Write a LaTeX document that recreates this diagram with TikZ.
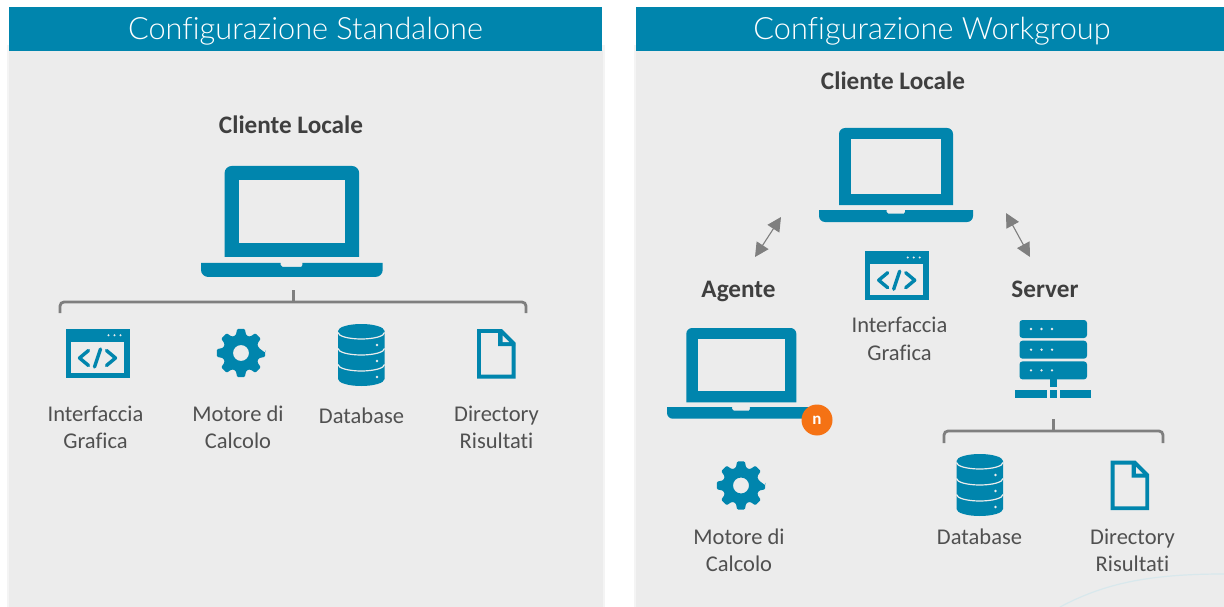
\documentclass[tikz,border=0pt]{standalone}
\usepackage{fontspec}
\setmainfont[Ligatures={NoCommon}]{Carlito}
\newfontfamily\lightfont[Ligatures={NoCommon}]{Lato Light}
\usetikzlibrary{arrows.meta}
\definecolor{teal}{HTML}{0085AD}
\definecolor{panel}{HTML}{ECECEC}
\definecolor{edge}{HTML}{F4F4F4}
\definecolor{ink}{HTML}{505050}
\definecolor{head}{HTML}{3F3F3F}
\definecolor{wire}{HTML}{7F7F7F}
\definecolor{badge}{HTML}{F57214}
\definecolor{arcc}{HTML}{D8E8EC}
\tikzset{
  x=1pt,y=-1pt,
  title/.style={text=white,font=\lightfont\fontsize{30.7}{31}\selectfont,inner sep=0pt,anchor=base},
  heading/.style={text=head,font=\fontsize{25.2}{25}\selectfont\bfseries,inner sep=0pt,anchor=base},
  label/.style={text=ink,font=\fontsize{22.5}{27.5}\selectfont,align=center,inner sep=0pt},
  bracket/.style={draw=wire,line width=2.8pt,rounded corners=4pt},
  stem/.style={draw=wire,line width=3pt},
  link/.style={draw=wire,line width=1.1pt,{Triangle[length=14pt,width=14pt]}-{Triangle[length=14pt,width=14pt]}},
  pics/laptop/.style={code={
    \fill[teal] (20,77) -- (20,6) arc[start angle=180,end angle=270,radius=6] -- (128,0) arc[start angle=270,end angle=360,radius=6] -- (134,77) -- cycle;
    \fill[panel] (32,11.5) rectangle (122,65.5);
    \fill[teal] (0,82) -- (67.5,82) -- (67.5,84) -- (69,85.5) -- (85,85.5) -- (86,84) -- (86,82) -- (154,82)
      -- (154,88) arc[start angle=0,end angle=90,radius=6] -- (6,94) arc[start angle=90,end angle=180,radius=6] -- cycle;
  }},
  pics/window/.style={code={
    \fill[teal] (0,0) rectangle (64,49.5);
    \fill[panel] (5.5,13.5) rectangle (58.5,44.5);
    \foreach \d in {43,49,55}{\fill[panel] (\d,6.8) circle (1.1);}
    \draw[teal,line width=3.4pt,line cap=round,line join=round] (23,22) -- (14,29.5) -- (23,37);
    \draw[teal,line width=3.4pt,line cap=round,line join=round] (41,22) -- (50,29.5) -- (41,37);
    \draw[teal,line width=3.4pt,line cap=round] (35,20.5) -- (29,38.5);
  }},
  pics/gear/.style={code={
    \fill[teal,even odd rule,rounded corners=1.2pt]
      (0:24.5) \foreach \a in {0,45,...,315}{
        -- (\a-9:24.5) -- (\a+9:24.5) -- (\a+16:18.5) -- (\a+29:18.5)
      } -- cycle (0,0) circle (8);
  }},
  pics/database/.style={code={
    \fill[teal] (0,7) arc[start angle=180,end angle=360,x radius=23.25,y radius=7] -- (46.5,55)
      arc[start angle=0,end angle=180,x radius=23.25,y radius=7] -- cycle;
    \foreach \y in {8.5,24.5,40.5}{
      \draw[panel,line width=1.2pt] (0,\y) arc[start angle=180,end angle=0,x radius=23.25,y radius=6.5];
    }
    \foreach \y in {21,37,53}{\fill[panel] (39,\y) circle (1.3);}
  }},
  pics/filedoc/.style={code={
    \draw[teal,line width=3.8pt,line join=miter] (1.9,1.9) -- (24,1.9) -- (36.6,14.5) -- (36.6,47.6) -- (1.9,47.6) -- cycle;
    \fill[teal] (21,1) -- (25,1) -- (38,14) -- (38,17) -- (21,17) -- cycle;
    \fill[panel] (25.5,6.5) -- (25.5,13) -- (32,13) -- cycle;
  }},
  pics/rack/.style={code={
    \foreach \y in {0,20.7,41.4}{
      \fill[teal,rounded corners=3pt] (4.5,\y) rectangle (72,\y+18);
      \foreach \d in {16,26.5,37}{\fill[panel] (\d,\y+9) circle (1.3);}
    }
    \fill[teal] (35,59) rectangle (42,67);
    \fill[teal] (0,70) rectangle (32,78);
    \fill[teal] (35,70) rectangle (42,78);
    \fill[teal] (45,70) rectangle (76,78);
  }},
}
\begin{document}
\begin{tikzpicture}
\useasboundingbox (0,0) rectangle (1224,607);
\fill[white] (0,0) rectangle (1224,607);
% panels
\fill[edge] (7,45) rectangle (605,607);
\fill[edge] (634,45) rectangle (1224,607);
\fill[panel] (9,50) rectangle (603,607);
\fill[panel] (636,50) rectangle (1224,607);
\fill[teal] (9,7) rectangle (602,51.5);
\fill[teal] (636,7) rectangle (1224,51.5);
\node[title] (t1) at (305.5,40) {Configurazione Standalone};
\node[title] (t2) at (932,40) {Configurazione Workgroup};
% left panel
\node[heading] (cl1) at (291,134) {Cliente Locale};
\pic[scale=1.18,transform shape] at (201,166) {laptop};
\pic at (65.5,328.5) {window};
\pic at (241,353) {gear};
\pic at (338,324) {database};
\pic at (477,329) {filedoc};
\node[label] (l1) at (95.5,427.5) {Interfaccia\\Grafica};
\node[label] (l2) at (238,427.5) {Motore di\\Calcolo};
\node[label] (l3) at (361.5,416) {Database};
\node[label] (l4) at (496.5,427.5) {Directory\\Risultati};
\coordinate (b1l) at (60,313);
\coordinate (b1r) at (526,313);
\coordinate (b1t) at (293,290);
\coordinate (b1m) at (293,302);
\draw[bracket] (b1l) |- (b1m) -| (b1r);
\draw[stem] (b1t) -- (b1m);
% right panel
\node[heading] (cl2) at (893,90) {Cliente Locale};
\pic at (819,128) {laptop};
\pic at (864.7,250.7) {window};
\node[label] (l5) at (899.5,339) {Interfaccia\\Grafica};
\node[heading] (ag) at (738.5,297.5) {Agente};
\node[heading] (sv) at (1045,297.5) {Server};
\pic[scale=0.965,transform shape] at (667,328) {laptop};
\node[circle,fill=badge,minimum size=31pt,inner sep=0pt,text=white,font=\fontsize{17}{17}\selectfont\bfseries] (bd) at (817,420) {n};
\pic at (741,485.5) {gear};
\node[label] (l6) at (739,550.5) {Motore di\\Calcolo};
\pic at (1015,320) {rack};
\coordinate (b2l) at (944,443);
\coordinate (b2r) at (1163,443);
\coordinate (b2t) at (1053,419);
\coordinate (b2m) at (1053,431);
\draw[bracket] (b2l) |- (b2m) -| (b2r);
\draw[stem] (b2t) -- (b2m);
\pic at (956.5,454) {database};
\pic at (1110.7,460.7) {filedoc};
\node[label] (l7) at (979.5,536.5) {Database};
\node[label] (l8) at (1132.5,550.5) {Directory\\Risultati};
\coordinate (a1) at (781,217);
\coordinate (a2) at (755,257);
\coordinate (a3) at (1006,213);
\coordinate (a4) at (1030,257);
\draw[link] (a1) -- (a2);
\draw[link] (a3) -- (a4);
% faint watermark arc
\draw[arcc,line width=1.2pt] (1060,607) .. controls (1105,583) and (1150,574) .. (1224,574);
\end{tikzpicture}
\end{document}
